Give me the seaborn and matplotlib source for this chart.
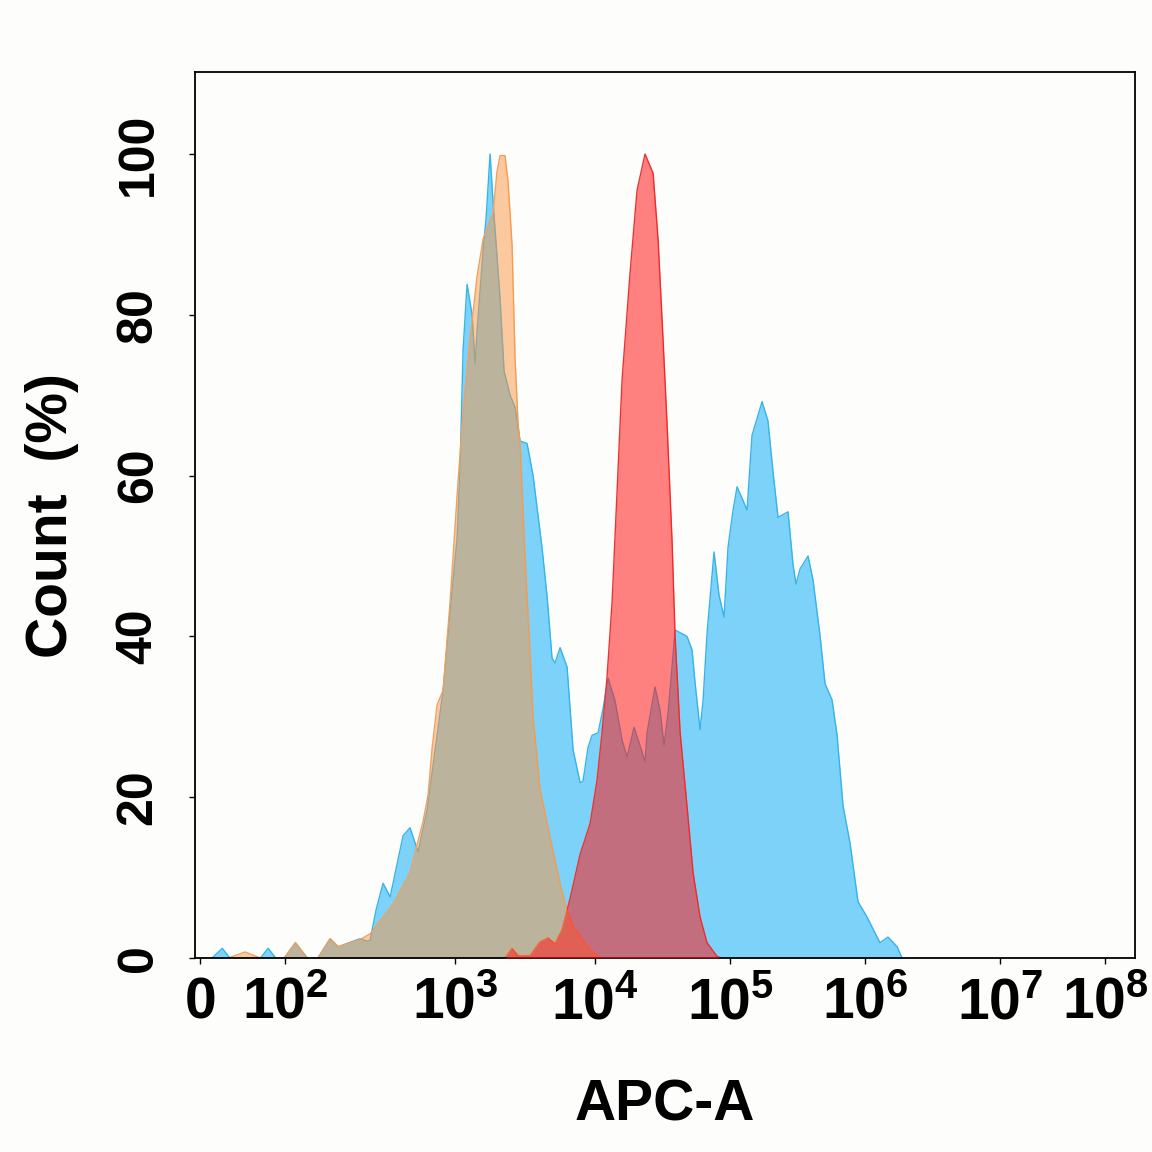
import numpy as np
import pandas as pd
import seaborn as sns
import matplotlib
matplotlib.use("Agg")
from matplotlib import pyplot as plt

blue_x = [-6, 14, 26, 35, 71, 80, 89, 99, 115, 135, 156, 184, 205, 276, 304, 316, 343, 377, 415,
          494, 543, 606, 684, 850, 935, 1033, 1086, 1141, 1218, 1323, 1389, 1436, 1585, 1665,
          1778, 1868, 2096, 2239, 2472, 2684, 2913, 3268, 3608, 4182, 4540, 4929, 5179, 5623,
          6310, 6966, 7816, 8204, 8913, 9520, 10520, 11460, 12480, 14060, 15850, 17270, 19450,
          21930, 23450, 24270, 27800, 30290, 32430, 34750, 37170, 39170, 48000, 52330, 55090,
          59970, 63100, 67570, 76100, 82920, 90300, 96650, 105300, 112700, 122700, 133600,
          145500, 172700, 191000, 208300, 226800, 269000, 293000, 308300, 330300, 378300,
          412100, 464200, 505800, 570000, 621000, 687600, 774300, 887600, 1035000, 1290000,
          1480000, 1730000, 1880000]
blue_y = [0, 0, 1.2, 0, 0, 1.2, 0, 0, 1.9, 0, 0, 2.4, 1.4, 2.4, 2.1, 2.2, 6, 9.3, 7.6,
          15.2, 16.2, 13.2, 18.4, 33.3, 43.2, 52.2, 61.3, 75.7, 83.8, 80, 74, 78, 88, 92,
          100, 94, 82, 73, 70, 68.5, 64.3, 64, 60, 51, 45, 37.3, 36.7, 38.6,
          36.2, 25.9, 21.8, 22, 26.2, 27.7, 28, 31, 34.8, 32, 27.1, 25, 28.7,
          26, 24.4, 28, 33.7, 30.8, 26.5, 30.5, 36.2, 40.8, 40, 38.3, 34.2,
          28.4, 32, 40.4, 50.5, 45.1, 42.4, 51.1, 55.7, 58.6, 57.2, 55.7,
          65, 69.2, 66.8, 60.4, 54.8, 55.5, 48.9, 46.5, 48.4, 50,
          47, 40.1, 34.1, 32.1, 27.7, 18.9, 14.3, 7, 5.1, 1.9,
          2.6, 1.4, 0]

orange_x = [33, 53, 71, 99, 115, 135, 156, 184, 205, 276, 316, 431, 543, 648, 694, 733, 784,
            850, 935, 1033, 1141, 1280, 1436, 1585, 1868, 1995, 2096, 2275, 2392, 2553, 2684,
            2818, 2913, 3162, 3434, 3608, 4045, 4774, 5623, 6310, 7080, 9205, 10890]
orange_y = [0, 0.75, 0, 0, 1.9, 0, 0, 2.4, 1.4, 2.3, 3.0, 6.7, 10.6, 17, 20.3, 26.2, 31.5,
            33.3, 44.4, 57.5, 67.9, 77, 84.8, 89.4, 92.7, 97.9, 99.8, 99.8, 96.5, 88.7, 74.4,
            66.5, 64, 50, 38, 30, 21, 15, 9.3, 6, 3.8, 1.1, 0]

red_x = [2275, 2553, 2818, 3434, 4045, 4613, 5179, 5807, 6626, 7816, 9205, 10340, 11270,
         12270, 13370, 14560, 15850, 18160, 20470, 23450, 26920, 29320, 31900, 34140, 37170,
         39170, 42660, 48000, 53250, 59970, 67570, 80150, 86000]
red_y = [0, 1.2, 0.3, 0.3, 2.0, 2.5, 1.8, 3.5, 7.4, 12.9, 16.7, 22.1, 28.1,
         35, 44.3, 58.1, 71.9, 85.2, 95.5, 100, 97.6, 89.3, 76.9, 66.5, 52,
         40, 28.1, 18.9, 10.6, 5.1, 1.9, 0.2, 0]

x_ticks = [0, 1e2, 1e3, 1e4, 1e5, 1e6, 1e7, 1e8]
x_ticklabels = ["0", "$10^{2}$", "$10^{3}$", "$10^{4}$", "$10^{5}$", "$10^{6}$",
                "$10^{7}$", "$10^{8}$"]
y_ticks = [0, 20, 40, 60, 80, 100]

# biexponential-like display axis: linear near zero, uneven decades above
DEC = [2, 3, 4, 5, 6, 7, 8, 9]
POS = [85, 255, 395, 530, 665, 800, 905, 1010]


def fwd(v):
    v = np.asarray(v, dtype=float)
    lg = np.log10(np.maximum(v, 100.0))
    return np.where(v <= 100, 0.85 * v, np.interp(lg, DEC, POS))


def inv(p):
    p = np.asarray(p, dtype=float)
    return np.where(p <= 85, p / 0.85, 10 ** np.interp(p, POS, DEC))


df = pd.concat([
    pd.DataFrame({"APC-A": blue_x, "Count": blue_y, "series": "blue"}),
    pd.DataFrame({"APC-A": orange_x, "Count": orange_y, "series": "orange"}),
    pd.DataFrame({"APC-A": red_x, "Count": red_y, "series": "red"}),
])

sns.set_theme(style="ticks")
plt.rcParams["font.family"] = ["Liberation Sans", "DejaVu Sans"]
plt.rcParams["font.weight"] = "bold"
plt.rcParams["mathtext.fontset"] = "custom"
plt.rcParams["mathtext.rm"] = "Liberation Sans:bold"
plt.rcParams["mathtext.it"] = "Liberation Sans:bold"
plt.rcParams["mathtext.bf"] = "Liberation Sans:bold"
for k in ["text.color", "axes.labelcolor", "xtick.color", "ytick.color", "xtick.labelcolor",
          "ytick.labelcolor"]:
    plt.rcParams[k] = "black"

bg = "#fdfdfb"
fig = plt.figure(figsize=(11.52, 11.52), dpi=100, facecolor=bg)
ax = fig.add_axes([0.1693, 0.1684, 0.8159, 0.7691])
ax.set_facecolor(bg)
ax.set_xscale("function", functions=(fwd, inv))

ax.fill_between(blue_x, blue_y, 0, color="#7cd2f8", lw=0, zorder=1)
sns.lineplot(data=df, x="APC-A", y="Count", hue="series", estimator=None, sort=True,
             palette={"blue": "#35b4ea", "orange": "#f0a060", "red": "#ec3434"},
             linewidth=1.0, legend=False, ax=ax, zorder=1.5)
ax.fill_between(orange_x, orange_y, 0, color="#fb9641", alpha=0.5, lw=0, zorder=2)
ax.fill_between(red_x, red_y, 0, color="#ff1c1c", alpha=0.55, lw=0, zorder=3)

ax.set_xlim(-6, 1.93e8)
ax.set_ylim(0, 110.2)
ax.set_xticks(x_ticks)
ax.set_xticklabels(x_ticklabels, fontsize=41, fontweight="bold")
ax.set_yticks(y_ticks)
ax.set_yticklabels([str(t) for t in y_ticks], fontsize=36, fontweight="bold",
                   rotation=90, va="center")
ax.minorticks_off()
ax.tick_params(axis="both", direction="out", length=4, width=1, color="black")
ax.tick_params(axis="y", pad=20)
ax.tick_params(axis="x", pad=9)

for s in ax.spines.values():
    s.set_visible(True)
    s.set_color("black")
    s.set_linewidth(1.3)

ax.set_xlabel("APC-A", fontsize=41, fontweight="bold", va="center")
ax.set_ylabel("Count  (%)", fontsize=41, fontweight="bold", va="center")
ax.xaxis.set_label_coords(0.5, -0.166)
ax.yaxis.set_label_coords(-0.152, 0.5)

fig.savefig("out.png", dpi=100, facecolor=bg)
